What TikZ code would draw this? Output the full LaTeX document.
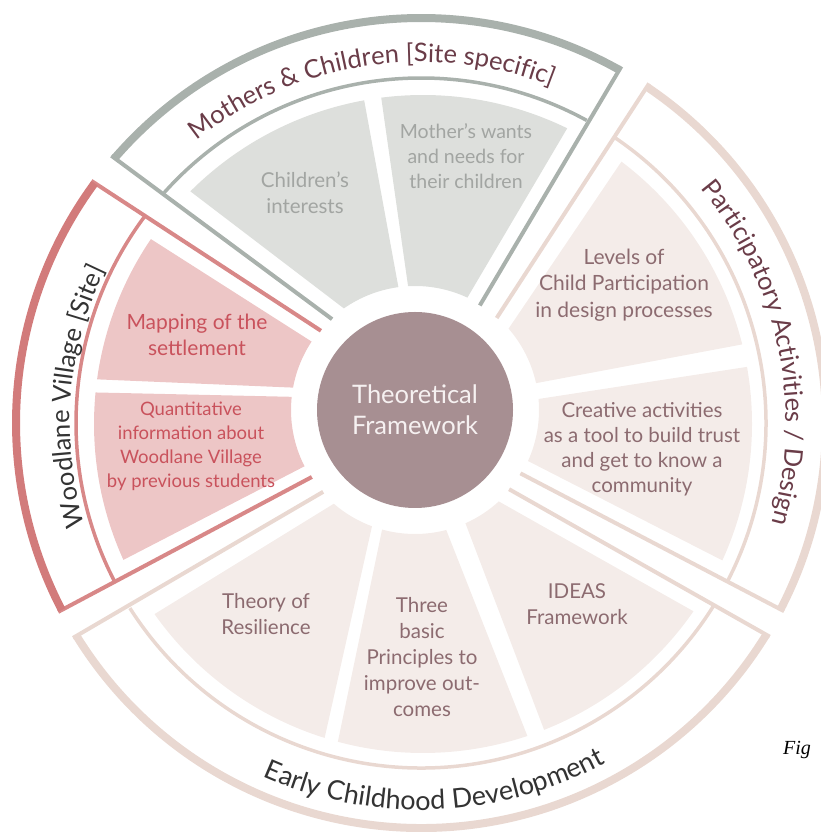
\documentclass[tikz,border=0pt]{standalone}
\usepackage{fontspec}
\setmainfont{Lato}
\newfontfamily\figfont{Liberation Serif}
\usetikzlibrary{calc}
\definecolor{mgline}{HTML}{A9B1AC}
\definecolor{mgfill}{HTML}{DDDFDC}
\definecolor{mgtext}{HTML}{A2A5A2}
\definecolor{wvline}{HTML}{D88888}
\definecolor{wvthick}{HTML}{D27B7B}
\definecolor{wvfill}{HTML}{EDC6C6}
\definecolor{wvtext}{HTML}{C9525C}
\definecolor{paline}{HTML}{E9D8D1}
\definecolor{pafill}{HTML}{F4ECE9}
\definecolor{patext}{HTML}{8C6B70}
\definecolor{core}{HTML}{A78F92}
\definecolor{coretext}{HTML}{F6F1F1}
\definecolor{labelmaroon}{HTML}{6A3C48}
\definecolor{labeldark}{HTML}{333333}
\newcommand{\ringfont}{\fontsize{25.5}{30}\selectfont}
\newcommand{\ringfontb}{\fontsize{27}{32}\selectfont}
\newcommand{\wedgefill}[5]{%
  \fill[#1] ($(F)+(#2:329pt)$) arc[start angle=#2, end angle=#3, radius=329pt]
    -- ($(C)+(#5:124pt)$) arc[start angle=#5, end angle=#4, radius=124pt] -- cycle;}
\newcommand{\grpframe}[8]{%
  \draw[#1, line width=4pt] ($(C)+(#2:123pt)$) -- ($(O)+(#3:409pt)$);
  \draw[#1, line width=4pt] ($(C)+(#5:123pt)$) -- ($(O)+(#6:409pt)$);
  \draw[#1, line width=3.5pt] ($(O)+(#4:345pt)$) arc[start angle=#4, end angle=#7, radius=345pt];
  \draw[#8, line width=8pt] ($(O)+(#3:405pt)$) arc[start angle=#3, end angle=#6, radius=405pt];}
\newcommand{\arcchar}[7]{\node[anchor=base, inner sep=0pt, rotate=#4, text=#6, font=#7] at ($(#1)+(#3:#2pt)$) {#5};}
\ExplSyntaxOn
\fp_new:N \l__arc_total_fp
\fp_new:N \l__arc_cur_fp
\fp_new:N \l__arc_w_fp
\tl_new:N \g__arc_items_tl
\box_new:N \l__arc_box
\NewDocumentCommand \arcprep { m m m m m m m }
 {
  \group_begin:
  #5
  \fp_zero:N \l__arc_total_fp
  \str_map_inline:nn { #7 }
   {
    \hbox_set:Nn \l__arc_box { ##1 }
    \fp_add:Nn \l__arc_total_fp { \dim_to_fp:n { \box_wd:N \l__arc_box } }
   }
  \fp_set:Nn \l__arc_cur_fp { #3 - (#4) * (\l__arc_total_fp / (#2)) * 90 / pi }
  \str_map_inline:nn { #7 }
   {
    \hbox_set:Nn \l__arc_box { ##1 }
    \fp_set:Nn \l__arc_w_fp { \dim_to_fp:n { \box_wd:N \l__arc_box } * 180 / pi / (#2) }
    \str_if_eq:nnF { ##1 } { ~ }
     {
      \tl_gput_right:Nx \g__arc_items_tl
       {
        \exp_not:N \arcchar {#1} {#2}
          { \fp_eval:n { round( \l__arc_cur_fp + (#4) * \l__arc_w_fp / 2 , 4) } }
          { \fp_eval:n { round( \l__arc_cur_fp + (#4) * \l__arc_w_fp / 2 + (#4) * 90 , 4) } }
          { \exp_not:n { ##1 } } {#6} { \exp_not:n {#5} }
       }
     }
    \fp_add:Nn \l__arc_cur_fp { (#4) * \l__arc_w_fp }
   }
  \group_end:
 }
\NewDocumentCommand \arcdraw { } { \tl_use:N \g__arc_items_tl }
\ExplSyntaxOff
\begin{document}
\arcprep{O}{361}{98.6}{-1}{\ringfont}{labelmaroon}{Mothers & Children [Site specific]}%
\arcprep{O}{351}{175.5}{-1}{\ringfont}{labeldark}{Woodlane Village [Site]}%
\arcprep{O}{365}{12}{-1}{\ringfont}{labelmaroon}{Participatory Activities / Design}%
\arcprep{O}{387}{272.2}{1}{\ringfontb}{labeldark}{Early Childhood Development}%
\begin{tikzpicture}[x=1pt,y=1pt,
  wlabel/.style={align=center, font=\fontsize{20.5}{26}\selectfont, inner sep=0pt}]
\useasboundingbox (0,0) rectangle (821,832);
\coordinate (O) at (421,409);
\coordinate (F) at (423,408);
\coordinate (C) at (415,422);
% wedge fills
\wedgefill{mgfill}{135}{100.3}{125}{97.7}
\wedgefill{mgfill}{97.3}{64}{93.2}{65}
\wedgefill{wvfill}{145.8}{172.2}{146.5}{169.6}
\wedgefill{wvfill}{174.5}{204.4}{173.9}{207}
\wedgefill{pafill}{52.9}{14}{41}{12.5}
\wedgefill{pafill}{10}{-24.5}{5.1}{-24.3}
\wedgefill{pafill}{215.3}{252.6}{229.1}{249.7}
\wedgefill{pafill}{255}{288.5}{254.6}{284.6}
\wedgefill{pafill}{291.6}{325.3}{294}{312.5}
% group frames
\grpframe{mgline}{132.4}{139.2}{138.1}{58.2}{60.67}{61.3}{mgline}
\grpframe{wvline}{139.9}{143.7}{143.1}{213}{207.5}{207.2}{wvthick}
\grpframe{paline}{48.4}{56.1}{55.7}{-31}{-27.4}{-27.5}{paline}
\grpframe{paline}{221.7}{211.7}{212.45}{-40.1}{328.5}{328}{paline}
% centre
\node[circle, fill=core, minimum size=196pt, inner sep=0pt, align=center,
  text=coretext, font=\fontsize{25.5}{31}\selectfont] (core) at (C) {Theoretical\\Framework};
% wedge labels
\node[wlabel, text=mgtext] (ci) at (305,639) {Children’s\\interests};
\node[wlabel, text=mgtext, font=\fontsize{19.5}{25}\selectfont] (mw) at (466,676) {Mother’s wants\\and needs for\\their children};
\node[wlabel, text=wvtext, font=\fontsize{21}{26}\selectfont] (map) at (197,497) {Mapping of the\\settlement};
\node[wlabel, text=wvtext, font=\fontsize{18.5}{24}\selectfont] (quant) at (191,386) {Quantitative\\information about\\Woodlane Village\\by previous students};
\node[wlabel, text=patext, font=\fontsize{21}{26.5}\selectfont] (lev) at (624,547) {Levels of\\Child Participation\\in design processes};
\node[wlabel, text=patext, font=\fontsize{20.5}{25}\selectfont] (cre) at (642,382.5) {Creative activities\\as a tool to build trust\\and get to know a\\community};
\node[wlabel, text=patext] (theo) at (266,218) {Theory of\\Resilience};
\node[wlabel, text=patext] (three) at (422,175) {Three\\basic\\Principles to\\improve out-\\comes};
\node[wlabel, text=patext] (ideas) at (577,228) {IDEAS\\Framework};
% ring labels
\arcdraw
\node[font=\figfont\itshape\fontsize{20}{24}\selectfont, anchor=west, inner sep=0pt] (fig) at (783,82) {Fig};
\end{tikzpicture}
\end{document}
